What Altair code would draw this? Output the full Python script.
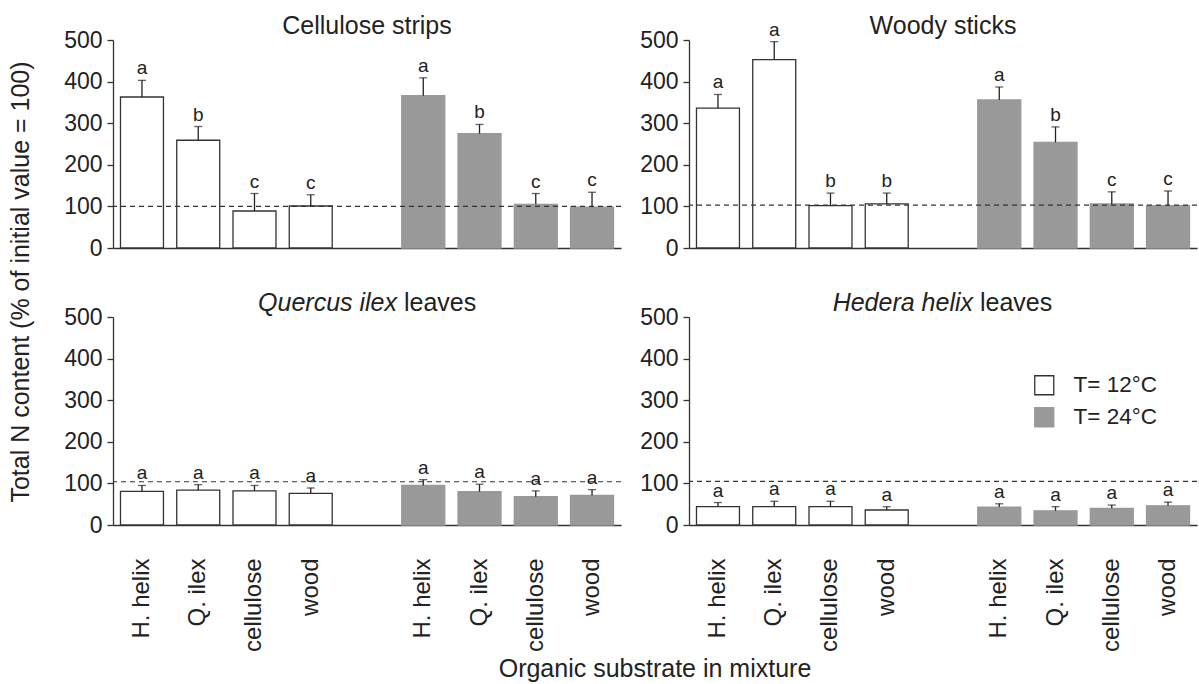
import altair as alt
import pandas as pd

# ---------------- data ----------------
substrates = ["H. helix", "Q. ilex", "cellulose", "wood"]
temps = ["T= 12°C", "T= 24°C"]
temp_keys = ["12", "24"]

title_italic = ["", "", "Quercus ilex", "Hedera helix"]
title_plain = ["Cellulose strips", "Woody sticks", "leaves", "leaves"]

# 4 bars at 12°C followed by 4 bars at 24°C (substrate order as above)
cellulose_mean = [363, 259, 89, 101, 366, 275, 105, 98]
cellulose_upper = [403, 292, 131, 128, 409, 297, 131, 134]
cellulose_letters = ["a", "b", "c", "c", "a", "b", "c", "c"]

wood_mean = [336, 453, 102, 106, 356, 254, 106, 102]
wood_upper = [369, 496, 132, 132, 387, 291, 135, 137]
wood_letters = ["a", "a", "b", "b", "a", "b", "c", "c"]

quercus_mean = [81, 84, 82, 76, 95, 80, 68, 71]
quercus_upper = [95, 97, 95, 89, 109, 98, 82, 85]
quercus_letters = ["a"] * 8

hedera_mean = [44, 44, 44, 36, 43, 34, 40, 46]
hedera_upper = [54, 57, 57, 44, 51, 44, 48, 55]
hedera_letters = ["a"] * 8

reference_lines = [100, 103, 104, 105]

y_ticks = [0, 100, 200, 300, 400, 500]
y_title = "Total N content (% of initial value = 100)"
x_title = "Organic substrate in mixture"

means = [cellulose_mean, wood_mean, quercus_mean, hedera_mean]
uppers = [cellulose_upper, wood_upper, quercus_upper, hedera_upper]
letters = [cellulose_letters, wood_letters, quercus_letters, hedera_letters]

FONT = "Liberation Sans, Arial, Helvetica, sans-serif"
W, H = 508, 208

slots_used = [f"{t}:{s}" for t in temp_keys for s in substrates]
slot_domain = slots_used[:4] + ["gap"] + slots_used[4:]
label_expr = "indexof(datum.value, ':') > 0 ? split(datum.value, ':')[1] : ''"

legend = alt.Legend(
    orient="none", legendX=920, legendY=334, title=None,
    symbolType="square", symbolSize=361, symbolStrokeWidth=1.3,
    labelFontSize=22.5, labelFont=FONT, labelColor="#222222",
    labelOffset=18, rowPadding=7, padding=0,
)


def xenc(bottom):
    return alt.X(
        "slot:N",
        sort=slot_domain,
        scale=alt.Scale(domain=slot_domain, paddingInner=0.236, paddingOuter=0.133),
        axis=alt.Axis(
            title=None, labels=bottom, labelExpr=label_expr, labelAngle=270,
            labelAlign="right", labelBaseline="middle", labelPadding=33,
            ticks=False, tickSize=0, labelFontSize=24, labelFont=FONT,
            labelColor="#222222", labelOverlap=False, labelFlush=False,
            labelBound=False, domainColor="#333333", domainWidth=1.3, grid=False,
        ),
    )


def yenc(field):
    return alt.Y(
        f"{field}:Q",
        scale=alt.Scale(domain=[0, 500], nice=False, zero=True),
        axis=alt.Axis(
            title=None, values=y_ticks, tickSize=6, tickWidth=1.3,
            tickColor="#333333", domainColor="#333333", domainWidth=1.3,
            labelFontSize=23, labelFont=FONT, labelColor="#222222",
            labelPadding=5, grid=False,
        ),
    )


def make_panel(i):
    bottom = i >= 2
    df = pd.DataFrame({
        "slot": slots_used,
        "temp": [temps[0]] * 4 + [temps[1]] * 4,
        "mean": means[i],
        "upper": uppers[i],
        "letter": letters[i],
    })
    base = alt.Chart(df)
    x = xenc(bottom)

    bars = base.mark_bar(strokeWidth=1.3).encode(
        x=x,
        y=yenc("mean"),
        fill=alt.Fill("temp:N", scale=alt.Scale(domain=temps, range=["#ffffff", "#999999"]), legend=legend),
        stroke=alt.Stroke("temp:N", scale=alt.Scale(domain=temps, range=["#333333", "#999999"]), legend=legend),
    )
    dashed = alt.Chart(pd.DataFrame({"ref": [reference_lines[i]]})).mark_rule(
        strokeDash=[5, 4], color="#333333", strokeWidth=1.2
    ).encode(y=yenc("ref"))
    stems = base.mark_rule(color="#222222", strokeWidth=1.3).encode(
        x=x, y=yenc("mean"), y2="upper:Q"
    )
    caps = base.mark_tick(size=8, thickness=1.3, color="#222222").encode(
        x=x, y=yenc("upper")
    )
    labels = base.mark_text(dy=-6, baseline="alphabetic", fontSize=19, font=FONT, color="#222222").encode(
        x=x, y=yenc("upper"), text="letter:N"
    )
    layers = [bars, dashed, stems, caps, labels]

    tdf = pd.DataFrame({"it": [title_italic[i]], "pl": [title_plain[i]]})
    if title_italic[i]:
        layers.append(alt.Chart(tdf).mark_text(
            fontSize=25, font=FONT, fontStyle="italic", align="right",
            baseline="alphabetic", color="#222222"
        ).encode(text="it:N", x=alt.value(284), y=alt.value(-6)))
        layers.append(alt.Chart(tdf).mark_text(
            fontSize=25, font=FONT, align="left", baseline="alphabetic",
            color="#222222", dx=7
        ).encode(text="pl:N", x=alt.value(284), y=alt.value(-6)))
    else:
        layers.append(alt.Chart(tdf).mark_text(
            fontSize=25, font=FONT, align="center", baseline="alphabetic",
            color="#222222"
        ).encode(text="pl:N", x=alt.value(W / 2), y=alt.value(-6)))

    if i == 0:
        layers.append(alt.Chart(pd.DataFrame({"t": [y_title]})).mark_text(
            fontSize=25, font=FONT, angle=270, align="center", baseline="middle",
            color="#222222"
        ).encode(text="t:N", x=alt.value(-92), y=alt.value(242)))
    if i == 2:
        layers.append(alt.Chart(pd.DataFrame({"t": [x_title]})).mark_text(
            fontSize=25, font=FONT, align="center", baseline="middle",
            color="#222222"
        ).encode(text="t:N", x=alt.value(542), y=alt.value(352)))

    return alt.layer(*layers).properties(width=W, height=H)


panels = [make_panel(i) for i in range(4)]

chart = alt.concat(
    *panels, columns=2, spacing={"row": 69, "column": 68}, bounds="flush"
).properties(
    padding={"left": 8, "top": 14, "right": 0, "bottom": 0}
).configure(
    font=FONT, background="white", view=alt.ViewConfig(stroke=None)
)

chart.save("out.html", embed_options={"renderer": "svg", "actions": False})
